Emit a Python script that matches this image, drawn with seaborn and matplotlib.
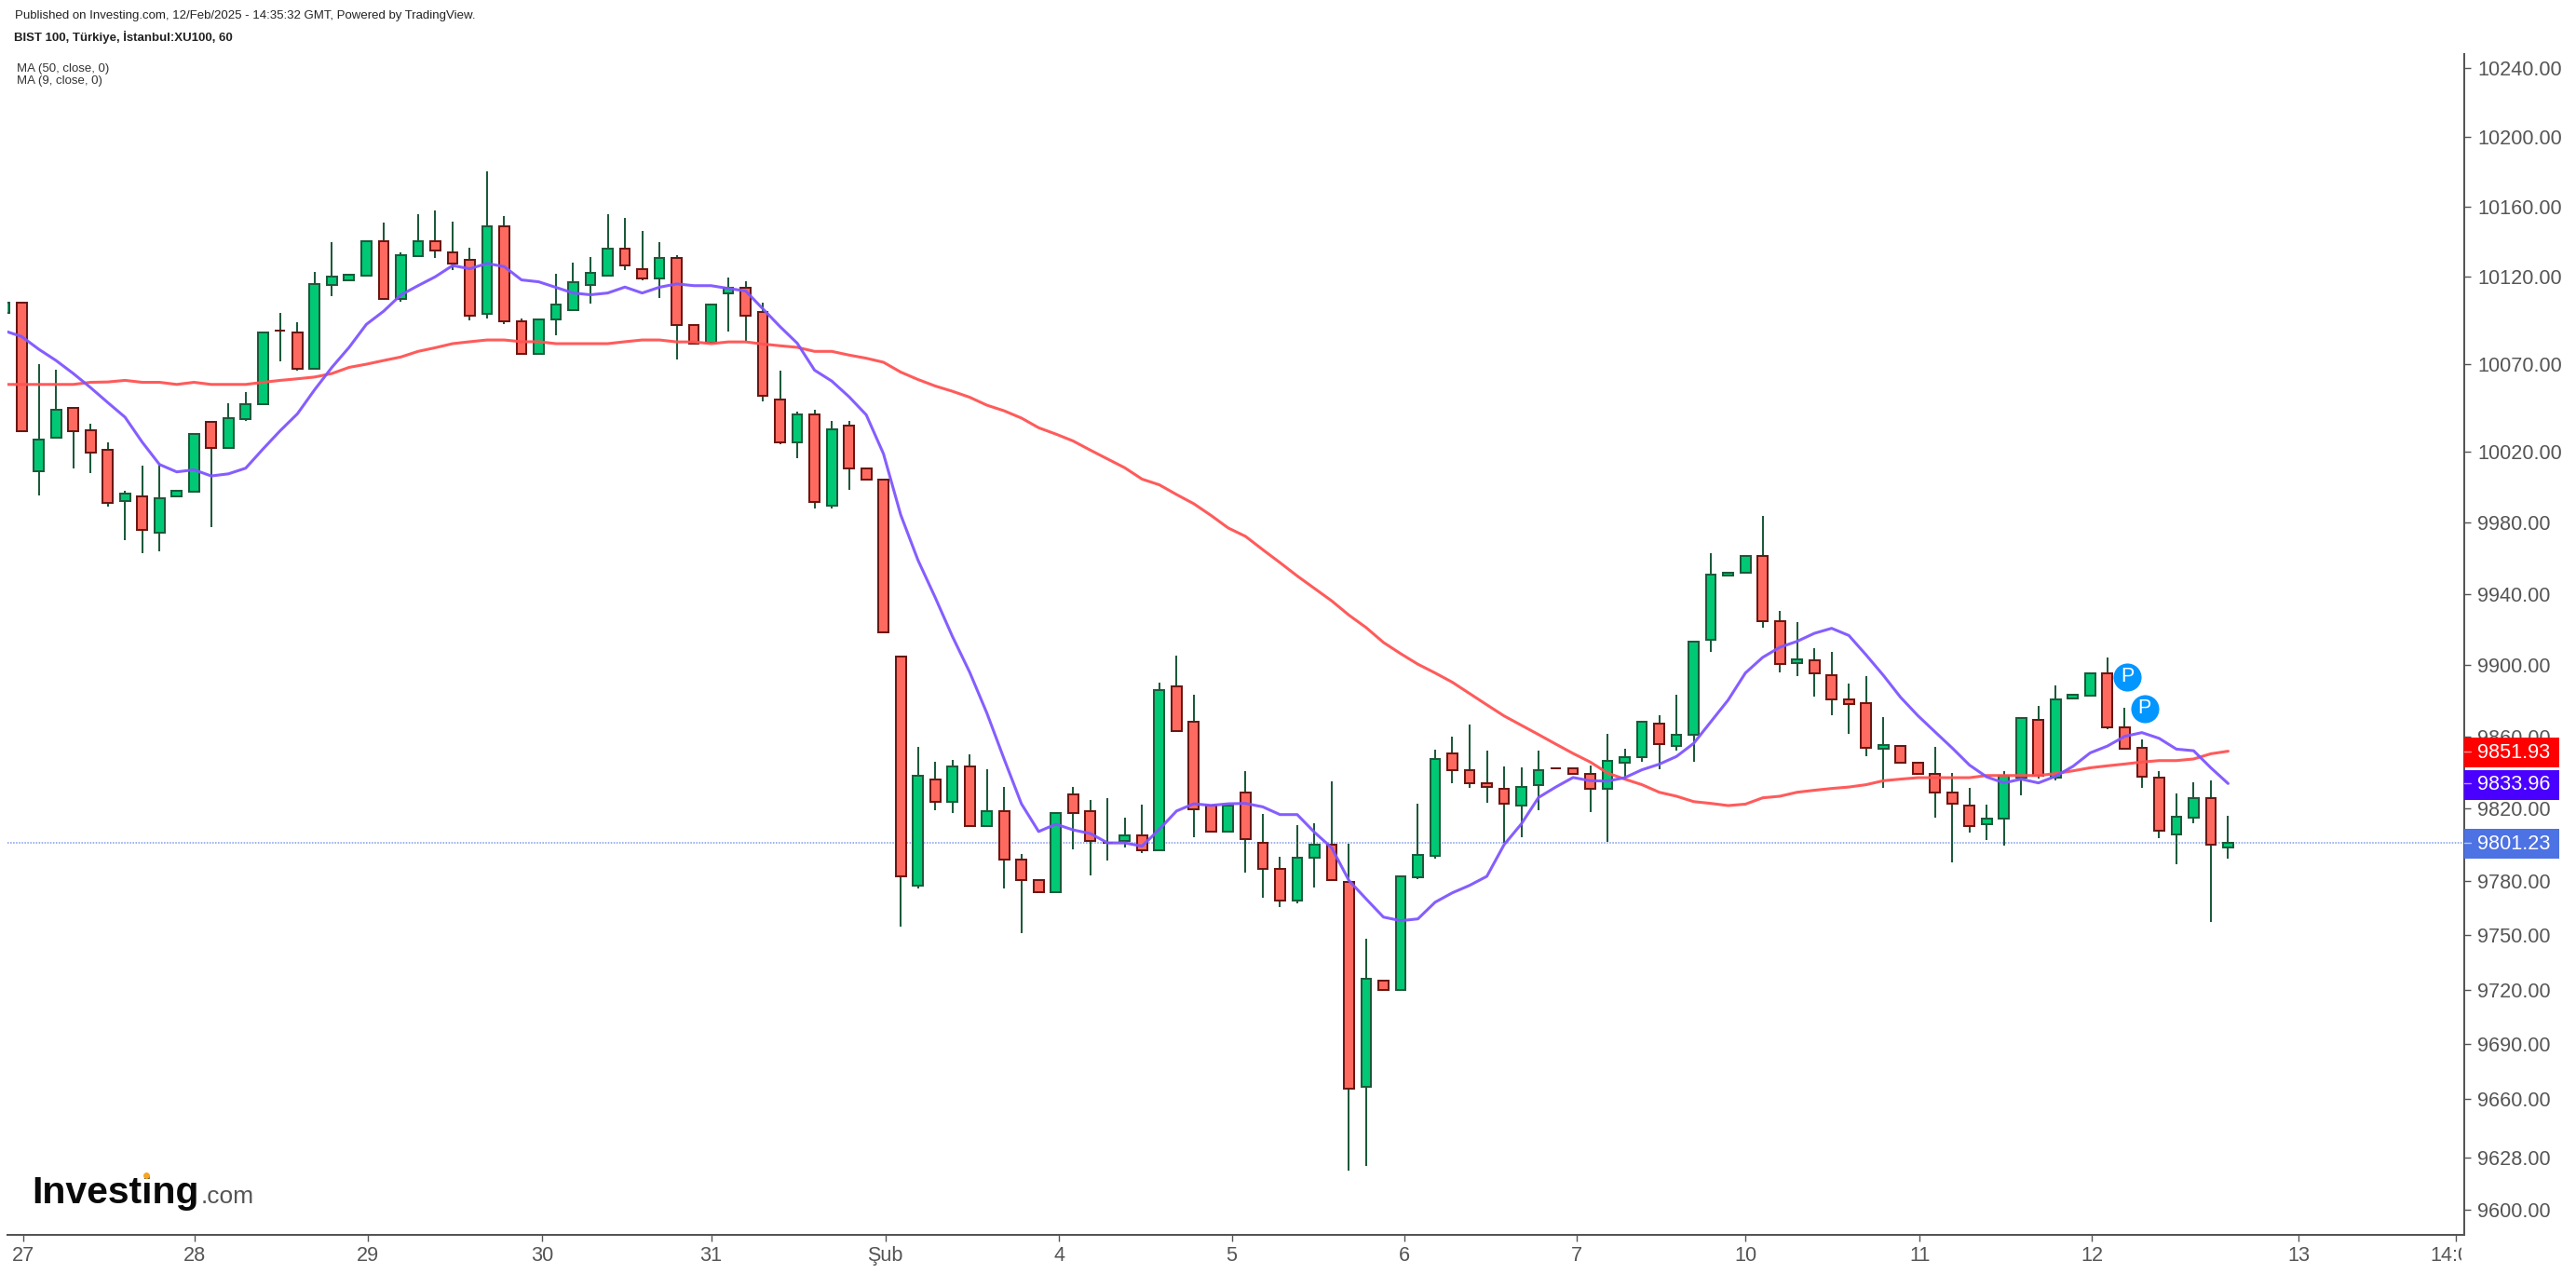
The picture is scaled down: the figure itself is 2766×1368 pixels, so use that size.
"""
BIST 100 hourly candles with MA 50 and MA 9, Investing.com style.

Output:
  out.png
"""

import matplotlib

matplotlib.use("Agg")

import matplotlib.pyplot as plt
import pandas as pd
import seaborn as sns
from matplotlib.lines import Line2D
from matplotlib.patches import Rectangle
from matplotlib.ticker import NullLocator
from matplotlib.transforms import Bbox, IdentityTransform, TransformedBbox

WIDTH = 2766
HEIGHT = 1368

# first bar is the one cut off by the left edge, then 10 bars per session
candle_open = [
    10099, 10105, 10009.2, 10028.2, 10045, 10032.5, 10021, 9992.4, 9994.6, 9974.6, 9994.6,
    9997.5, 10036.9, 10022.2, 10038.7, 10047.3, 10088.9, 10087.8, 10067.3, 10115.2, 10117.5,
    10120.5, 10140.2, 10106.8, 10131.5, 10140.2, 10133.7, 10129.5, 10098.4, 10148.8, 10094.3,
    10075.8, 10095.3, 10100.4, 10115.2, 10120.5, 10135.9, 10124.1, 10118.5, 10130.6, 10092.2,
    10081.8, 10110.3, 10113.5, 10099.6, 10049.7, 10025.4, 10041.3, 9989.4, 10035, 10010.8,
    10004.4, 9904.9, 9777.2, 9836.1, 9823.6, 9843.4, 9810.3, 9818.7, 9791.7, 9780.4,
    9774, 9828, 9818.7, 9801, 9801.9, 9805.4, 9796.9, 9888, 9868.5, 9821.9,
    9807.1, 9829, 9801, 9786.8, 9769.1, 9792.6, 9800.1, 9779.4, 9666.8, 9725,
    9719.8, 9782.2, 9793.8, 9850.7, 9841.3, 9834.1, 9831.1, 9821.6, 9833, 9842.5,
    9842.5, 9839.5, 9830.8, 9845.4, 9848.5, 9867.5, 9854.7, 9860.9, 9914, 9950.3,
    9951.7, 9961.5, 9924.8, 9901.3, 9902.9, 9894.3, 9881, 9878.9, 9853.5, 9855,
    9845.7, 9839.3, 9829, 9821.8, 9811.2, 9814.3, 9837.2, 9869.6, 9837.2, 9881.5,
    9882.7, 9895.5, 9865.3, 9853.9, 9837.4, 9805.8, 9815.2, 9826, 9798.7,
]
candle_high = [
    10105, 10105.5, 10069.8, 10066.6, 10045, 10036, 10025.6, 9998.2, 10012, 10012.7, 9997.8,
    10030.4, 10036.9, 10047.6, 10054.1, 10087.8, 10098.8, 10093.6, 10122.5, 10139.5, 10120.8,
    10140.2, 10150.5, 10133.9, 10155.7, 10157.9, 10151.5, 10136.5, 10180.2, 10154.6, 10095.7,
    10095.3, 10121.3, 10127.8, 10131.1, 10155.7, 10153.4, 10146, 10139.3, 10131.8, 10092.2,
    10103.8, 10119.2, 10116.9, 10105.1, 10065.9, 10042.7, 10044, 10037.6, 10037.6, 10010.8,
    10004.4, 9904.9, 9854.3, 9846, 9847.1, 9850.3, 9841.8, 9832.3, 9795.1, 9780.4,
    9817.7, 9832.3, 9825, 9826.1, 9815, 9822.3, 9890.3, 9905.2, 9883.5, 9821.9,
    9821.9, 9840.7, 9816.8, 9793.2, 9810.8, 9811.7, 9835.4, 9800.6, 9748, 9725,
    9782.4, 9823, 9852.9, 9860.2, 9866.6, 9852.1, 9843.7, 9843, 9852.1, 9842.5,
    9842.5, 9844, 9861.5, 9853.3, 9868.5, 9872, 9883.4, 9913.3, 9962.8, 9952,
    9961.5, 9983.9, 9930.4, 9924.1, 9909.5, 9907.4, 9889.7, 9893.8, 9871, 9855,
    9845.7, 9854.4, 9839.8, 9831.5, 9822.2, 9840.7, 9870.6, 9877.2, 9888.6, 9883.2,
    9895.5, 9904.2, 9876.1, 9858.4, 9840.8, 9828.3, 9834.6, 9835.6, 9815.9,
]
candle_low = [
    10099, 10031.6, 9995.2, 10028.2, 10010.7, 10008, 9989.1, 9970.3, 9962.8, 9964, 9994.6,
    9997.5, 9977.6, 10022.2, 10037.5, 10047.3, 10071.3, 10066.1, 10067.3, 10108.7, 10117.5,
    10120.5, 10106.8, 10105.5, 10131.5, 10130.2, 10123.6, 10094.9, 10095.8, 10092.9, 10075.8,
    10075.8, 10086.5, 10100.4, 10104.3, 10120.5, 10123.6, 10117.4, 10107.7, 10072.7, 10081.4,
    10081.8, 10088.5, 10083, 10048.4, 10024.1, 10016.7, 9988.2, 9988.2, 9998.7, 10004.2,
    9918.3, 9754.5, 9775.8, 9819.3, 9817.4, 9810.3, 9810.3, 9775.9, 9751.3, 9774,
    9774, 9797.6, 9783.2, 9791.5, 9798.7, 9795.5, 9796.9, 9863, 9804, 9807.1,
    9807.1, 9784.3, 9770.9, 9765.7, 9767.6, 9776.1, 9780.4, 9621, 9623.9, 9719.8,
    9719.8, 9781.1, 9792.4, 9833.9, 9831.5, 9823.3, 9800.8, 9804, 9819.3, 9842.5,
    9839.4, 9818.2, 9801.5, 9836.4, 9846.2, 9842.1, 9852.5, 9846.2, 9907.4, 9950.3,
    9951.7, 9921, 9896, 9893.8, 9882.4, 9872, 9861.6, 9849.2, 9831.5, 9845.4,
    9839.1, 9815, 9790.4, 9806.7, 9802.6, 9799.6, 9827.4, 9836.9, 9835.8, 9881.5,
    9882.7, 9864, 9853.5, 9831.5, 9803.6, 9789.3, 9812, 9757.4, 9792.4,
]
candle_close = [
    10105, 10031.6, 10027.2, 10044.1, 10031.6, 10019.8, 9991.3, 9996.6, 9975.7, 9993.7, 9997.8,
    10030.4, 10022.2, 10038.9, 10047.3, 10087.8, 10088.9, 10067.3, 10115.4, 10119.7, 10120.8,
    10140.2, 10106.8, 10131.8, 10140.2, 10134.5, 10127.1, 10097.2, 10148.8, 10094.3, 10075.8,
    10095.3, 10103.6, 10116.6, 10122, 10135.9, 10126.3, 10118.6, 10130.6, 10092.2, 10081.4,
    10103.8, 10113.5, 10097.3, 10051.8, 10025.4, 10041.3, 9991.6, 10033, 10010.6, 10004.2,
    9918.3, 9782.3, 9838.4, 9823.8, 9843.4, 9810.3, 9818.7, 9791.7, 9780.4, 9774,
    9817.7, 9817.6, 9801.9, 9801, 9805.4, 9796.9, 9886, 9863, 9819.8, 9807.1,
    9821.9, 9803, 9786.6, 9769.1, 9792.9, 9800.1, 9780.4, 9665.9, 9725.9, 9719.8,
    9782.4, 9794.2, 9847.7, 9841.3, 9834.1, 9832, 9822.7, 9832, 9841.3, 9842.5,
    9839.4, 9830.8, 9846.7, 9848.8, 9868.5, 9855.7, 9861.3, 9913.3, 9950.9, 9952,
    9961.5, 9924.6, 9900.5, 9903, 9895.2, 9880.6, 9878.4, 9853.7, 9855.2, 9845.4,
    9839.1, 9828.9, 9822.5, 9810.1, 9814.6, 9838.4, 9870.6, 9838.1, 9880.9, 9883.2,
    9895.5, 9865, 9853.5, 9838, 9808, 9815.5, 9826, 9799.9, 9801.23,
]
ma_9 = [
    10088.8, 10085.6, 10078.3, 10071.9, 10064.5, 10056.5, 10048, 10039.7, 10025.5, 10012.9, 10008.7,
    10009.9, 10006.4, 10007.6, 10010.8, 10021.6, 10032, 10041.6, 10055.3, 10068, 10079.4,
    10092.5, 10100, 10109.3, 10114.6, 10119.7, 10126.1, 10124.3, 10127.3, 10125.5, 10117.9,
    10116.8, 10113.6, 10110.4, 10109.4, 10110.4, 10113.8, 10110.4, 10113.7, 10115.6, 10114.6,
    10114.6, 10113, 10111.6, 10101.4, 10091.2, 10081.7, 10066.4, 10060.2, 10051.3, 10041,
    10018.9, 9984.4, 9958.9, 9937.9, 9916, 9896, 9873.1, 9847.5, 9822.7, 9807.3,
    9811.4, 9808.2, 9806.2, 9801, 9801, 9799.2, 9808.5, 9818.7, 9822.7, 9821.8,
    9822.7, 9822.9, 9821, 9816.7, 9816.7, 9806.9, 9798.3, 9780.2, 9770, 9760,
    9758, 9759, 9768.2, 9773.4, 9777.5, 9782.5, 9800, 9811.5, 9826.2, 9832,
    9837.3, 9835.5, 9835.3, 9837.2, 9841.6, 9844.7, 9849, 9856.3, 9868.4, 9880.5,
    9895.6, 9904.3, 9910, 9913.3, 9917.8, 9920.6, 9916.6, 9905.7, 9894.3, 9882,
    9871.8, 9862.7, 9853.7, 9844.2, 9837.6, 9834.3, 9836.4, 9834.3, 9838, 9843.5,
    9851, 9854.8, 9860.2, 9862.3, 9859.1, 9853.1, 9852.2, 9842.7, 9833.96,
]
ma_50 = [
    10058.3, 10058.3, 10058.3, 10058.3, 10058.3, 10059.5, 10059.7, 10060.6, 10059.5, 10059.5, 10058.3,
    10059.5, 10058.3, 10058.3, 10058.3, 10059.5, 10060.6, 10061.5, 10062.5, 10064.5, 10068,
    10069.8, 10071.9, 10073.9, 10077.1, 10079.2, 10081.5, 10082.6, 10083.6, 10083.6, 10082.6,
    10082.6, 10081.5, 10081.5, 10081.5, 10081.5, 10082.6, 10083.6, 10083.6, 10082.5, 10082.5,
    10081.5, 10082.5, 10082.5, 10081.3, 10080.3, 10079.4, 10077.1, 10077.1, 10075, 10073.2,
    10070.9, 10065.3, 10061.1, 10057.4, 10054.4, 10051, 10046.5, 10043.3, 10039.2, 10033.7,
    10030.1, 10026.2, 10021, 10016, 10011, 10004.6, 10001.4, 9995.9, 9990.7, 9984.1,
    9977, 9972.3, 9964.8, 9957.5, 9950, 9943, 9936, 9928, 9921, 9912.7,
    9906.4, 9900.5, 9895.6, 9890.4, 9884.1, 9877.8, 9871.6, 9866.4, 9861.2, 9855.9,
    9850.7, 9845.9, 9839.8, 9836.4, 9833.3, 9829.1, 9826.9, 9823.9, 9822.9, 9821.7,
    9822.5, 9826, 9826.9, 9829.1, 9830.2, 9831.2, 9832, 9833.3, 9835.5, 9836.4,
    9837.2, 9837.2, 9837.2, 9837.2, 9838.4, 9838.4, 9838.4, 9838.4, 9839.5, 9841,
    9842.7, 9843.8, 9844.8, 9845.9, 9846.7, 9846.7, 9847.6, 9850.5, 9851.93,
]

y_ticks = [
    10240, 10200, 10160, 10120, 10070, 10020, 9980, 9940, 9900,
    9860, 9820, 9780, 9750, 9720, 9690, 9660, 9628, 9600,
]
x_tick_bars = [0.1, 10.05, 20.1, 30.2, 40, 50.1, 60.2, 70.2, 80.2, 90.2, 100, 110.1, 120.1, 132.1, 141.2]
x_tick_labels = ["27", "28", "29", "30", "31", "Şub", "4", "5", "6", "7", "10", "11", "12", "13", "14:00"]

pin_bars = [122.15, 123.15]
pin_prices = [9893.4, 9875.7]

last_labels = [9851.93, 9833.96, 9801.23]
last_label_colors = ["#FF0000", "#4A00FF", "#4D72E3"]

GREEN = "#00C875"
GREEN_EDGE = "#1C5A3A"
RED = "#FF6A60"
RED_EDGE = "#6A1712"
MA_50_COLOR = "#FF5252"
MA_9_COLOR = "#7F55FF"
AXIS_COLOR = "#555555"


def px_text(fig, x, y, text, **kwargs):
    """Place a text using pixel coordinates measured from the top left."""
    return fig.text(x / WIDTH, 1 - y / HEIGHT, text, **kwargs)


def draw_candles(ax, df):
    rising = df["close"] > df["open"]
    ax.vlines(df["bar"], df["low"], df["high"], color=GREEN_EDGE, linewidth=1.45, zorder=2)
    for mask, face, edge in [(rising, GREEN, GREEN_EDGE), (~rising, RED, RED_EDGE)]:
        part = df[mask]
        ax.bar(
            part["bar"],
            (part["close"] - part["open"]).abs(),
            bottom=part[["open", "close"]].min(axis=1),
            width=0.58,
            color=face,
            edgecolor=edge,
            linewidth=1.45,
            zorder=3,
        )


def main():
    sns.set_theme(style="white")
    plt.rcParams["font.family"] = ["Liberation Sans", "DejaVu Sans"]

    df = pd.DataFrame(
        {
            "open": candle_open,
            "high": candle_high,
            "low": candle_low,
            "close": candle_close,
            "ma_9": ma_9,
            "ma_50": ma_50,
        }
    )
    df["bar"] = df.index - 1

    fig = plt.figure(figsize=(WIDTH / 100, HEIGHT / 100), dpi=100)
    ax = fig.add_axes(
        [
            8 / WIDTH,
            (HEIGHT - 1325.7) / HEIGHT,
            (2646 - 8) / WIDTH,
            (1325.7 - 58) / HEIGHT,
        ]
    )
    ax.set_yscale("log")

    ax.axhline(last_labels[2], color="#7F99EA", linewidth=1.1, linestyle=(0, (1, 1)), zorder=1)
    draw_candles(ax, df)
    sns.lineplot(data=df, x="bar", y="ma_50", color=MA_50_COLOR, linewidth=2.2, alpha=0.95, ax=ax, zorder=4)
    sns.lineplot(data=df, x="bar", y="ma_9", color=MA_9_COLOR, linewidth=2.2, alpha=0.95, ax=ax, zorder=5)

    sns.scatterplot(x=pin_bars, y=pin_prices, s=470, color="#0496FF", linewidth=0, ax=ax, zorder=6)
    for bar, price in zip(pin_bars, pin_prices):
        ax.text(bar, price, "P", color="white", fontsize=15.5, ha="center", va="center", zorder=7)

    ax.set_xlim(-0.82, 141.7)
    ax.set_ylim(9586.4, 10247.9)

    ax.yaxis.tick_right()
    ax.set_yticks(y_ticks, [f"{tick:.2f}" for tick in y_ticks])
    ax.yaxis.set_minor_locator(NullLocator())
    ax.set_xticks(x_tick_bars, x_tick_labels)
    ax.set_xlabel("")
    ax.set_ylabel("")
    ax.tick_params(
        axis="both",
        length=5,
        width=1,
        color=AXIS_COLOR,
        labelcolor=AXIS_COLOR,
        labelsize=15.6,
    )
    ax.tick_params(axis="x", pad=3.5, bottom=True)
    ax.tick_params(axis="y", pad=5, right=True, labelright=True, left=False, labelleft=False)

    for side in ["top", "left"]:
        ax.spines[side].set_visible(False)
    for side in ["right", "bottom"]:
        ax.spines[side].set_color(AXIS_COLOR)
        ax.spines[side].set_linewidth(1.45)

    # the last x label is cut by the price scale
    clip = TransformedBbox(Bbox([[0, 0], [2643, HEIGHT]]), IdentityTransform())
    last_tick_label = ax.get_xticklabels()[-1]
    last_tick_label.set_clip_box(clip)
    last_tick_label.set_clip_on(True)

    # price tags over the right scale
    for value, color in zip(last_labels, last_label_colors):
        y_disp = ax.transData.transform((0, value))[1]
        fig.add_artist(
            Rectangle(
                (2645.5, y_disp - 17.5),
                102,
                32,
                transform=IdentityTransform(),
                facecolor=color,
                edgecolor="none",
                zorder=8,
            )
        )
        fig.add_artist(
            Line2D(
                [2646, 2653],
                [y_disp, y_disp],
                transform=IdentityTransform(),
                color="#FFFFFF",
                alpha=0.6,
                linewidth=1,
                zorder=9,
            )
        )
        fig.text(
            2660 / WIDTH,
            (y_disp - 1.5) / HEIGHT,
            f"{value:.2f}",
            color="white",
            fontsize=15.6,
            ha="left",
            va="center",
            zorder=9,
        )

    px_text(fig, 16, 17, "Published on Investing.com, 12/Feb/2025 - 14:35:32 GMT, Powered by TradingView.",
            fontsize=9.55, color="#222222", va="center")
    px_text(fig, 15, 40, "BIST 100, Türkiye, İstanbul:XU100, 60",
            fontsize=9.55, fontweight="bold", color="#222222", va="center")
    px_text(fig, 18, 74, "MA (50, close, 0)", fontsize=9.5, color="#333333", va="center")
    px_text(fig, 18, 87, "MA (9, close, 0)", fontsize=9.5, color="#333333", va="center")

    # logo
    px_text(fig, 34, 1292, "Investing", fontsize=29.5, fontweight="bold", color="#0A0A0A", va="baseline")
    px_text(fig, 216, 1292, ".com", fontsize=19, color="#555555", va="baseline")
    fig.add_artist(
        Line2D(
            [157],
            [HEIGHT - 1262],
            transform=IdentityTransform(),
            marker="o",
            markersize=4,
            color="#F5A623",
            linewidth=0,
            zorder=9,
        )
    )

    fig.savefig("out.png", dpi=100)
    plt.close(fig)


if __name__ == "__main__":
    main()
